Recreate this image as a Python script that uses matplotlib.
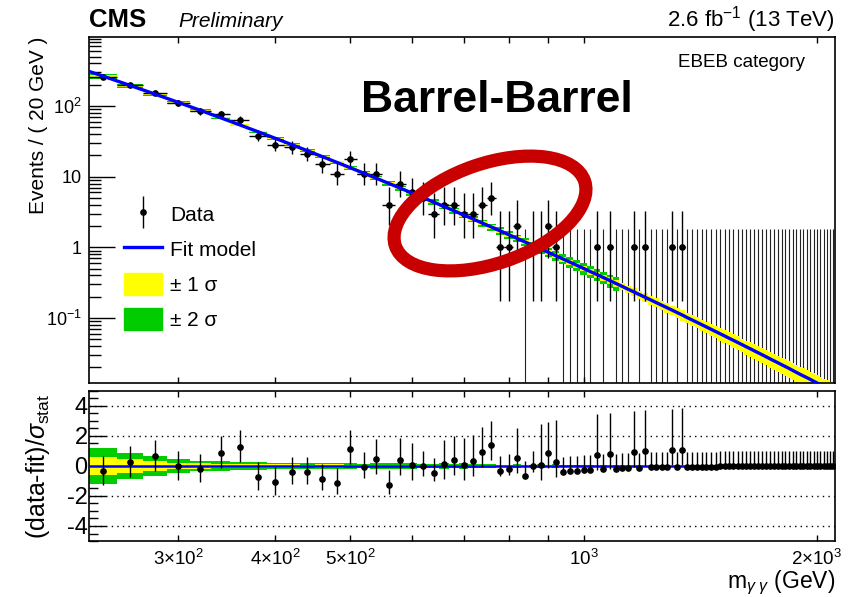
import numpy as np
import matplotlib.pyplot as plt
from matplotlib.patches import Ellipse, Patch
from matplotlib.lines import Line2D
from matplotlib.legend_handler import HandlerErrorbar
from matplotlib.ticker import FixedLocator, FixedFormatter, LogLocator, NullFormatter, MultipleLocator, NullLocator

plt.rcParams['font.family'] = ['Liberation Sans', 'DejaVu Sans']
plt.rcParams['mathtext.fontset'] = 'custom'
plt.rcParams['mathtext.rm'] = 'Liberation Sans'
plt.rcParams['mathtext.it'] = 'Liberation Sans:italic'
plt.rcParams['mathtext.bf'] = 'Liberation Sans:bold'
plt.rcParams['axes.unicode_minus'] = False

# diphoton mass bins, 20 GeV wide
bin_width = 20
mass = np.arange(240, 2101, bin_width)

# observed events per bin
counts = [258, 199, 155, 112, 85, 76, 64, 38, 28,      # 240-400
          26, 21, 15, 11, 18, 11, 11, 4, 8, 6,         # 420-600
          5, 3, 4, 4, 3, 3, 4, 5, 1, 1,                # 620-800
          2, 0, 1, 1, 2, 1, 0, 0, 0, 0,                # 820-1000
          0, 1, 0, 1, 0, 0, 0, 1, 0, 1,                # 1020-1200
          0, 0, 0, 0, 1, 0, 1, 0, 0, 0,                # 1220-1400
          ] + [0] * 35                                 # 1420-2100

# background fit evaluated at the bin centres
fit = [264, 195, 147, 112.3, 87.0, 68.2, 54.0, 43.2, 34.9,
       28.4, 23.3, 19.2, 15.97, 13.34, 11.22, 9.48, 8.05, 6.87, 5.88,
       5.06, 4.37, 3.79, 3.29, 2.87, 2.51, 2.20, 1.94, 1.71, 1.51,
       1.34, 1.19, 1.06, 0.950, 0.850, 0.762, 0.684, 0.616, 0.555, 0.501,
       0.453, 0.411, 0.373, 0.339, 0.308, 0.281, 0.256, 0.234, 0.214, 0.196,
       0.180, 0.165, 0.152, 0.140, 0.129, 0.119, 0.110, 0.101, 0.0935, 0.0866,
       0.0802, 0.0744, 0.0690, 0.0641, 0.0596, 0.0555, 0.0516, 0.0482, 0.0449, 0.0419,
       0.0391, 0.0366, 0.0342, 0.0320, 0.0300, 0.0281, 0.0263, 0.0247, 0.0232, 0.0218,
       0.0205, 0.0193, 0.0181, 0.0170, 0.0160, 0.0151, 0.0143, 0.0135, 0.0127, 0.0120,
       0.0113, 0.0107, 0.0101, 0.00957, 0.00907]
fit_low_edge = 309.0  # fit value at 230 GeV

# relative 1 sigma fit uncertainty per bin (percent)
fit_unc = [3.8, 3.2, 2.7, 2.3, 2.1, 2.0, 2.0, 2.0, 2.1,
           2.2, 2.4, 2.6, 2.8, 3.0, 3.2, 3.4, 3.6, 3.8, 4.0,
           4.2, 4.4, 4.6, 4.8, 5.0, 5.2, 5.4, 5.6, 5.8, 6.0,
           6.3, 6.6, 6.9, 7.2, 7.5, 7.8, 8.1, 8.4, 8.7, 9.0,
           9.3, 9.7, 10.1, 10.5, 11.0, 11.5, 12.0, 12.5, 13.0, 13.5,
           14.0, 14.5, 15.0, 15.5, 16.0, 16.4, 16.8, 17.2, 17.6, 18.0,
           18.4, 18.8, 19.2, 19.6, 20.0, 20.4, 20.8, 21.2, 21.6, 22.0,
           22.4, 22.8, 23.2, 23.6, 24.0, 24.4, 24.8, 25.2, 25.6, 26.0,
           26.3, 26.6, 26.9, 27.2, 27.5, 27.8, 28.1, 28.4, 28.7, 29.0,
           29.3, 29.6, 29.9, 30.2, 30.5]
two_sigma_max_mass = 1100  # the 2 sigma band is only shown up to here

x_ticks = [300, 400, 500, 600, 700, 800, 900, 1000, 2000]
x_tick_labels = [r'$3{\times}10^{2}$', r'$4{\times}10^{2}$', r'$5{\times}10^{2}$', '', '', '', '',
                 r'$10^{3}$', r'$2{\times}10^{3}$']
y_ticks_top = [0.1, 1, 10, 100]
y_tick_labels_top = [r'$10^{-1}$', '1', '10', r'$10^{2}$']
y_ticks_pull = [-4, -2, 0, 2, 4]
y_tick_labels_pull = ['-4', '-2', '0', '2', '4']

YELLOW = '#ffff00'
GREEN = '#00cc00'
BLUE = '#0000ff'

n = np.array(counts, dtype=float)
f = np.array(fit)
rel = np.array(fit_unc) / 100.0
g2 = mass <= two_sigma_max_mass

# Poisson (Garwood-like) intervals, Wilson-Hilferty approximation
n1 = np.maximum(n, 1)
lower = np.where(n > 0, n * (1 - 1 / (9 * n1) - 1 / (3 * np.sqrt(n1))) ** 3, 0.0)
upper = (n + 1) * (1 - 1 / (9 * (n + 1)) + 1 / (3 * np.sqrt(n + 1))) ** 3
err_lo = n - lower
err_hi = upper - n

sigma = np.where(n > f, err_lo, err_hi)
pull = (n - f) / sigma

fig = plt.figure(figsize=(8.57, 5.97), dpi=100)
ax = fig.add_axes([0.1039, 0.3585, 0.8705, 0.5796])
axr = fig.add_axes([0.1039, 0.0938, 0.8705, 0.2513])

xlo, xhi = 230, 2110
ylo, yhi = 0.012, 950

# ---- upper panel ----
ax.set_xscale('log')
ax.set_yscale('log')
# empty bins: only the upper Poisson error, drawn under the bands
ax.vlines(mass[n == 0], ylo, err_hi[n == 0], color='#222222', lw=0.8, zorder=1.5)

ax.bar(mass[g2], 4 * rel[g2] * f[g2], bottom=f[g2] * (1 - 2 * rel[g2]), width=bin_width,
       color=GREEN, lw=0, zorder=2)
ax.bar(mass, 2 * rel * f, bottom=f * (1 - rel), width=bin_width, color=YELLOW, lw=0, zorder=2)

nz = n > 0
eb = ax.errorbar(mass[nz], n[nz], yerr=[err_lo[nz], err_hi[nz]], xerr=bin_width / 2,
                 fmt='o', color='black', ms=3.8, elinewidth=1.0, capsize=0, zorder=3)

curve_m = np.concatenate([[xlo], mass])
curve_v = np.concatenate([[fit_low_edge], f])
ax.plot(curve_m, curve_v, color=BLUE, lw=2.4, zorder=4)

ax.set_xlim(xlo, xhi)
ax.set_ylim(ylo, yhi)
ax.xaxis.set_major_locator(FixedLocator(x_ticks))
ax.xaxis.set_minor_locator(NullLocator())
ax.xaxis.set_major_formatter(NullFormatter())
ax.yaxis.set_major_locator(FixedLocator(y_ticks_top))
ax.yaxis.set_major_formatter(FixedFormatter(y_tick_labels_top))
ax.yaxis.set_minor_locator(LogLocator(base=10, subs=np.arange(2, 10), numticks=20))
ax.yaxis.set_minor_formatter(NullFormatter())
ax.tick_params(axis='both', which='both', direction='in', top=True, right=False, labelsize=13)
ax.tick_params(axis='x', which='major', length=4, width=1)
ax.tick_params(axis='y', which='major', length=19, width=1, pad=5)
ax.tick_params(axis='y', which='minor', length=8.5, width=1)
for s in ax.spines.values():
    s.set_linewidth(1.2)

ax.set_ylabel('Events / ( 20 GeV )', fontsize=15, loc='top')
ax.yaxis.set_label_coords(-0.055, 1.0)

leg = ax.legend([eb, Line2D([], [], color=BLUE, lw=2.4), Patch(color=YELLOW), Patch(color=GREEN)],
                ['Data', 'Fit model', '\u00b1 1 \u03c3', '\u00b1 2 \u03c3'],
                handler_map={type(eb): HandlerErrorbar(xerr_size=0, yerr_size=0.75)},
                loc='upper left', bbox_to_anchor=(0.047, 0.52), frameon=False, fontsize=15,
                handlelength=1.8, handleheight=1.25, labelspacing=0.62, handletextpad=0.4,
                borderpad=0, borderaxespad=0)

ax.text(0.96, 0.913, 'EBEB category', transform=ax.transAxes, ha='right', va='baseline', fontsize=13.5)
ax.text(0.547, 0.783, 'Barrel-Barrel', transform=ax.transAxes, ha='center', va='baseline',
        fontsize=32, weight='bold')

# ---- pull panel ----
axr.set_xscale('log')
band_r = rel * f / sigma
axr.bar(mass[g2], 4 * band_r[g2], bottom=-2 * band_r[g2], width=bin_width, color=GREEN, lw=0, zorder=2)
axr.bar(mass, 2 * band_r, bottom=-band_r, width=bin_width, color=YELLOW, lw=0, zorder=2)
axr.plot([xlo, xhi], [0, 0], color=BLUE, lw=1.8, zorder=3)
for yv in [-4, -2, 2, 4]:
    axr.axhline(yv, color='black', lw=1.0, ls=(0, (1, 3)), zorder=1)
axr.errorbar(mass, pull, yerr=[err_lo / sigma, err_hi / sigma], fmt='o', color='black',
             ms=3.8, elinewidth=1.0, capsize=0, zorder=4)

axr.set_xlim(xlo, xhi)
axr.set_ylim(-5, 5)
axr.xaxis.set_major_locator(FixedLocator(x_ticks))
axr.xaxis.set_minor_locator(NullLocator())
axr.xaxis.set_major_formatter(FixedFormatter(x_tick_labels))
axr.yaxis.set_major_locator(FixedLocator(y_ticks_pull))
axr.yaxis.set_major_formatter(FixedFormatter(y_tick_labels_pull))
axr.yaxis.set_minor_locator(MultipleLocator(0.5))
axr.tick_params(axis='both', which='both', direction='in', top=True, right=False)
axr.tick_params(axis='x', which='major', length=4, width=1, labelsize=13.5, pad=6)
axr.tick_params(axis='y', which='major', length=12, width=1, labelsize=17, pad=1)
axr.tick_params(axis='y', which='minor', length=6.5, width=1)
for s in axr.spines.values():
    s.set_linewidth(1.2)
axr.set_ylabel(r'(data-fit)/$\sigma_{\mathrm{stat}}$', fontsize=18)
axr.yaxis.set_label_coords(-0.05, 0.5)

fig.text(835 / 857, 0.015, r'm$_{\gamma\ \gamma}$ (GeV)', ha='right', va='baseline', fontsize=16.5)

# ---- header ----
fig.text(89 / 857, 0.955, 'CMS', weight='bold', fontsize=18.5, ha='left', va='baseline')
fig.text(178 / 857, 0.955, 'Preliminary', style='italic', fontsize=15, ha='left', va='baseline')
fig.text(835 / 857, 0.955, r'2.6 fb$^{-1}$ (13 TeV)', fontsize=16, ha='right', va='baseline')

# red ring drawn in pixel space on top of everything
over = fig.add_axes([0, 0, 1, 1], zorder=10)
over.set_xlim(0, 857)
over.set_ylim(597, 0)
over.axis('off')
over.patch.set_alpha(0)
over.add_patch(Ellipse((490, 213.5), 200, 100, angle=-19, fill=False, ec='#c80000', lw=9.5))

fig.savefig('out.png', dpi=100)
